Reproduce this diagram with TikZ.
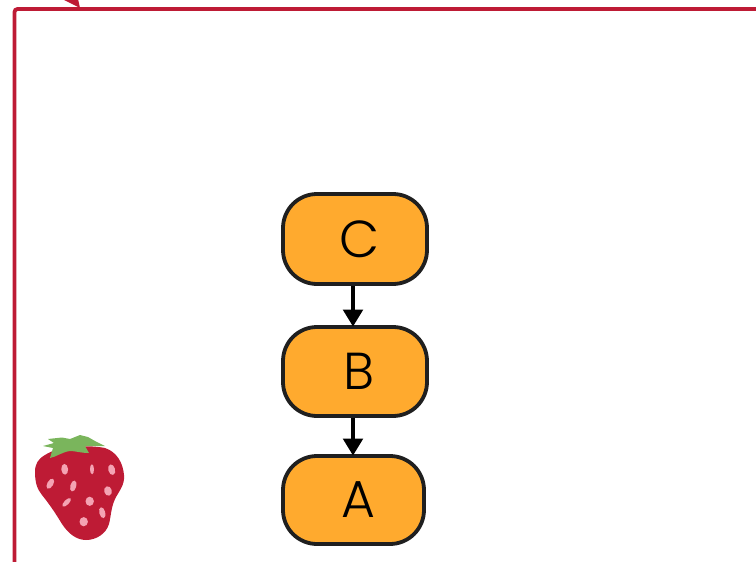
\documentclass[tikz,border=0pt]{standalone}
\usepackage{fontspec}
\setmainfont{Poppins}[UprightFont={* Light}]
\usetikzlibrary{arrows.meta}
\definecolor{berry}{HTML}{BE1B35}
\definecolor{boxfill}{HTML}{FFAA2E}
\definecolor{boxline}{HTML}{1F1F1F}
\definecolor{leaf}{HTML}{7AB55C}
\definecolor{seed}{HTML}{F4A3B3}
\tikzset{
  flowbox/.style={draw=boxline,fill=boxfill,line width=3.8pt,rounded corners=34pt,inner sep=0pt,
    minimum width=#1,font=\fontsize{52}{52}\selectfont,text=black,align=center},
  flowarrow/.style={draw=black,line width=4pt,-{Triangle[length=17pt,width=19.4pt]},shorten >=-1.5pt},
  frameline/.style={draw=berry,line width=3.8pt,rounded corners=3pt},
  seedmark/.style={fill=seed,draw=none},
}
\begin{document}
\begin{tikzpicture}[x=1pt,y=-1pt]
\useasboundingbox (0,0) rectangle (756,562);
\begin{scope}
\clip (0,0) rectangle (756,562);
\draw[frameline] (14.5,575) -- (14.5,9) -- (770,9);
\fill[berry] (62,-1) -- (80,8) -- (78,-1) -- cycle;
\end{scope}
\node[flowbox=144pt,minimum height=90pt] (c) at (355,239) {\hspace*{8.5pt}C};
\node[flowbox=144pt,minimum height=89pt] (b) at (355,371.5) {\hspace*{8pt}B};
\node[flowbox=141pt,minimum height=88pt] (a) at (353.5,500) {\hspace*{10pt}A};
\draw[flowarrow] ([xshift=-2pt]c.south) -- ([xshift=-2pt]b.north);
\draw[flowarrow] ([xshift=-2pt]b.south) -- ([xshift=-0.5pt]a.north);
% strawberry
\fill[berry] (45,455) .. controls (38,459) and (35,464) .. (35,472)
  .. controls (35,482) and (37,489) .. (42,495)
  .. controls (50,505) and (56,514) .. (62,524)
  .. controls (68,533) and (76,540) .. (86,540)
  .. controls (96,540) and (106,534) .. (109,524)
  .. controls (111,516) and (111,508) .. (115,499)
  .. controls (119,491) and (125,485) .. (124,475)
  .. controls (123,463) and (117,452) .. (105,448)
  .. controls (90,445) and (60,445) .. (45,455) -- cycle;
\fill[leaf] (43,446) -- (54,443) -- (48,439) -- (62,437.5) -- (70,439) -- (80,435) -- (88,437) -- (95,441) -- (105,446)
  -- (85,446) -- (89,453) .. controls (80,453) and (76,451) .. (70,451) .. controls (62,452) and (56,457) .. (50,458)
  -- (53,448) -- cycle;
\foreach \x/\y/\a/\b/\r in {64.7/469.3/3.4/5.4/5, 92/469.3/2/5/1, 111.7/469.7/3.4/5.4/15, 50.3/483.7/3/5.6/-30,
  73.3/486/3/5.6/-15, 108/491/3.8/4.8/15, 66.7/502.3/2.4/5.6/-45, 89.7/501.3/4.2/4.6/0, 102.3/512.7/3/5.6/15, 83.7/521.7/4.2/4.6/0}
  \fill[seedmark,rotate around={\r:(\x,\y)}] (\x,\y) ellipse [x radius=\a pt,y radius=\b pt];
\end{tikzpicture}
\end{document}
